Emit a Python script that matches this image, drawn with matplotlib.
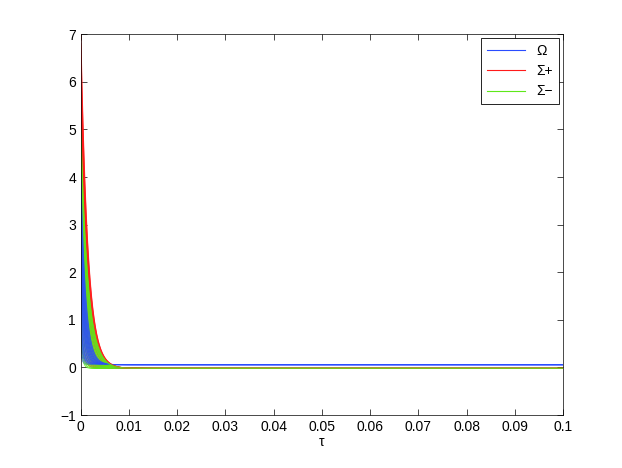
import numpy as np
import matplotlib.pyplot as plt

plt.rcParams['font.family'] = ['Liberation Sans', 'DejaVu Sans']
plt.rcParams['font.size'] = 10

# initial values of each trajectory
omega_start = [0.3, 0.45, 0.6, 0.75, 0.9, 1.05, 1.2, 1.4, 1.6, 1.75, 1.9, 2.05, 2.2, 2.4,
               2.55, 2.7, 2.85, 3.0, 3.15, 3.3, 3.5, 3.7, 3.9, 4.1]
sigp_start = [0.5, 0.8, 1.1, 1.4, 1.7, 2.0, 2.3, 2.6, 2.9, 3.2, 3.5, 3.8, 4.1, 4.4,
              4.7, 5.0, 5.3, 5.6, 5.9, 6.1, 6.3, 6.5, 6.8, 7.0]
sigm_start = [0.5, 0.65, 0.8, 1.0, 1.2, 1.4, 1.6, 1.8, 2.0, 2.2, 2.4, 2.6, 2.8, 3.0,
              3.2, 3.4, 3.6, 3.8, 4.0, 4.2, 4.4, 4.6, 4.8, 5.0]

# decay time scales of each trajectory
omega_tc = [0.0003, 0.00035, 0.0004, 0.00045, 0.0005, 0.0005, 0.00055, 0.0006, 0.0006, 0.00065,
            0.0007, 0.0007, 0.00075, 0.00075, 0.0008, 0.0008, 0.00085, 0.00085, 0.0009, 0.0009,
            0.00095, 0.00095, 0.001, 0.001]
sigp_tc = [0.0008, 0.00085, 0.0009, 0.00095, 0.001, 0.00105, 0.0011, 0.0011, 0.00115, 0.0012,
           0.0012, 0.00125, 0.0013, 0.0013, 0.0013, 0.00135, 0.00135, 0.0014, 0.0014, 0.0014,
           0.0014, 0.00145, 0.00145, 0.00145]
sigm_tc = [0.0004, 0.0005, 0.0006, 0.0007, 0.0008, 0.0009, 0.00095, 0.001, 0.00105, 0.0011,
           0.00115, 0.0012, 0.0012, 0.00125, 0.0013, 0.0013, 0.00135, 0.0014, 0.0014, 0.00145,
           0.00145, 0.0015, 0.0015, 0.0015]

# values the trajectories settle to
omega_end = 0.06
sigp_end = -0.02
sigm_end = -0.02

tau = np.linspace(0, 0.1, 4001)

fig = plt.figure(figsize=(6.22, 4.68), dpi=100)
ax = fig.add_axes([0.13, 0.113, 0.775, 0.814])

blue = '#2a4cff'
red = '#ff1a1a'
green = '#5ee81a'

for i in range(len(omega_start)):
    om = omega_end + (omega_start[i] - omega_end) * np.exp(-tau / omega_tc[i])
    sp = sigp_end + (sigp_start[i] - sigp_end) * np.exp(-tau / sigp_tc[i])
    sm = sigm_end + (sigm_start[i] - sigm_end) * np.exp(-tau / sigm_tc[i])
    ax.plot(tau, om, color=blue, lw=0.6, alpha=0.75, label='Ω' if i == 0 else None)
    ax.plot(tau, sp, color=red, lw=0.7, alpha=0.85, label='Σ+' if i == 0 else None)
    ax.plot(tau, sm, color=green, lw=0.7, alpha=0.85, label='Σ−' if i == 0 else None)

ax.set_xlim(0, 0.1)
ax.set_ylim(-1, 7)
ax.set_xticks(np.arange(0, 0.1001, 0.01))
ax.set_xticklabels(['0', '0.01', '0.02', '0.03', '0.04', '0.05', '0.06', '0.07', '0.08', '0.09', '0.1'])
ax.set_yticks(range(-1, 8))
ax.tick_params(direction='in', top=True, right=True, length=4, width=0.5)
for s in ax.spines.values():
    s.set_linewidth(0.5)
ax.set_xlabel('τ', labelpad=1)

leg = ax.legend(loc='upper right', fancybox=False, edgecolor='black', framealpha=1,
                handlelength=2.8, borderaxespad=0.3, labelspacing=0.45)
leg.get_frame().set_linewidth(0.6)
for l in leg.get_lines():
    l.set_alpha(1)
    l.set_linewidth(0.8)

fig.savefig('out.png', dpi=100)
